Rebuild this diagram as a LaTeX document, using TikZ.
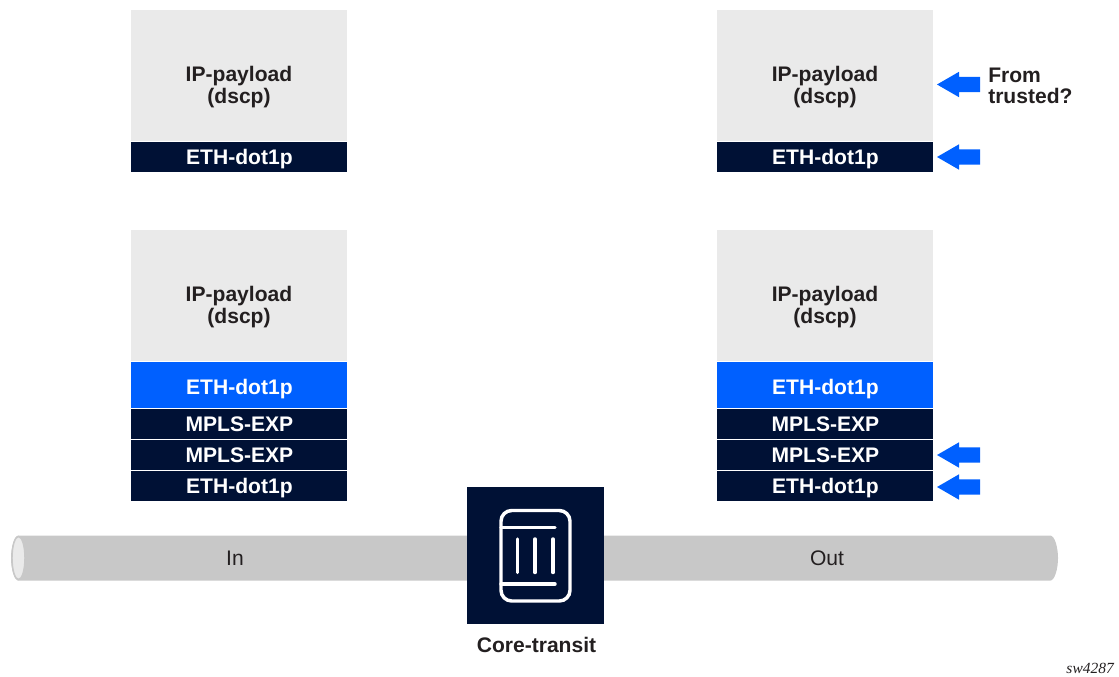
\documentclass[tikz,border=0pt]{standalone}
\usepackage{fontspec}
\setmainfont{Liberation Sans}
\newfontfamily\tagfont{Liberation Serif}
\usetikzlibrary{positioning,shapes.arrows}
\definecolor{navy}{HTML}{001135}
\definecolor{nblue}{HTML}{0060FF}
\definecolor{paygrey}{HTML}{EAEAEA}
\definecolor{pipegrey}{HTML}{C8C8C8}
\definecolor{inktext}{HTML}{231F20}
\tikzset{
  boldtext/.style={font=\fontsize{15.8}{16.1}\selectfont\bfseries, text=inktext, align=center, inner sep=0pt},
  payload/.style={fill=paygrey, minimum width=162pt, minimum height=98.25pt, inner sep=0pt, outer sep=0pt},
  bar/.style={fill=navy, minimum width=162pt, minimum height=22.5pt, inner sep=0pt, outer sep=0pt,
    font=\fontsize{15.8}{16.1}\selectfont\bfseries, text=white, text height=14.4pt, text depth=3.2pt},
  bluebar/.style={bar, fill=nblue, minimum height=34.5pt, text height=17.4pt},
  pointer/.style={single arrow, shape border rotate=180, fill=nblue, anchor=tip, inner xsep=0pt, inner ysep=5.6pt, outer sep=0pt,
    minimum height=32.25pt, single arrow head extend=3.75pt, single arrow tip angle=60},
  pipetext/.style={font=\fontsize{15.8}{16.1}\selectfont, text=inktext, inner sep=0pt},
}
\begin{document}
\begin{tikzpicture}[x=0.75pt, y=-0.75pt]
\useasboundingbox (0,0) rectangle (1119,677);
% top left
\node [payload] (payA) at (239.4,75.5) {};
\node [boldtext] (payAtext) at (239,87) {IP-payload\\(dscp)};
\node [bar, below=0.75pt of payA] (ethA) {ETH-dot1p};
% top right
\node [payload] (payB) at (825.4,75.5) {};
\node [boldtext] (payBtext) at (825,87) {IP-payload\\(dscp)};
\node [bar, below=0.75pt of payB] (ethB) {ETH-dot1p};
% bottom left
\node [payload] (payC) at (239.4,295.5) {};
\node [boldtext] (payCtext) at (239,307) {IP-payload\\(dscp)};
\node [bluebar, below=0.75pt of payC] (blueC) {ETH-dot1p};
\node [bar, below=0.75pt of blueC] (mplsCa) {MPLS-EXP};
\node [bar, below=0.75pt of mplsCa] (mplsCb) {MPLS-EXP};
\node [bar, below=0.75pt of mplsCb] (ethC) {ETH-dot1p};
% bottom right
\node [payload] (payD) at (825.4,295.5) {};
\node [boldtext] (payDtext) at (825,307) {IP-payload\\(dscp)};
\node [bluebar, below=0.75pt of payD] (blueD) {ETH-dot1p};
\node [bar, below=0.75pt of blueD] (mplsDa) {MPLS-EXP};
\node [bar, below=0.75pt of mplsDa] (mplsDb) {MPLS-EXP};
\node [bar, below=0.75pt of mplsDb] (ethD) {ETH-dot1p};
% pointers
\node [pointer] (ptrA) at (937,84.5) {};
\node [pointer] (ptrB) at (937,157) {};
\node [pointer] (ptrC) at (937,455) {};
\node [pointer] (ptrD) at (937,487) {};
\node [boldtext, align=left, anchor=west] (trusted) at (988,86) {From\\trusted?};
% pipe
\fill [pipegrey] (18.5,535.5) -- (1050,535.5) .. controls (1055,535.5) and (1058,548) .. (1058,558)
  .. controls (1058,568) and (1055,580.7) .. (1050,580.7) -- (18.5,580.7)
  .. controls (14,580.7) and (11,568) .. (11,558) .. controls (11,548) and (14,535.5) .. (18.5,535.5) -- cycle;
\draw [pipegrey, fill=paygrey, line width=1.1pt] (18.5,558) ellipse [x radius=6.5, y radius=21.5];
\node [pipetext] (inlabel) at (235,558) {In};
\node [pipetext] (outlabel) at (827,558) {Out};
% router
\node [fill=navy, minimum width=103pt, minimum height=103pt, inner sep=0pt, outer sep=0pt] (core) at (535.5,555.5) {};
\draw [white, line width=2.6pt, rounded corners=8pt] (501,510.5) rectangle (570,601);
\draw [white, line width=2.6pt, line cap=round] (501,527.5) -- (555,527.5);
\draw [white, line width=2.6pt, line cap=round] (501,584) -- (555,584);
\foreach \px in {517.5,535,553}
  \draw [white, line width=2.6pt, line cap=round] (\px,539) -- (\px,572.5);
\node [boldtext] (corelabel) at (536.5,645) {Core-transit};
\node [font=\fontsize{11.6}{13}\selectfont\tagfont\itshape, text=inktext, inner sep=0pt, anchor=east] (tag) at (1114,668) {sw4287};
\end{tikzpicture}
\end{document}
